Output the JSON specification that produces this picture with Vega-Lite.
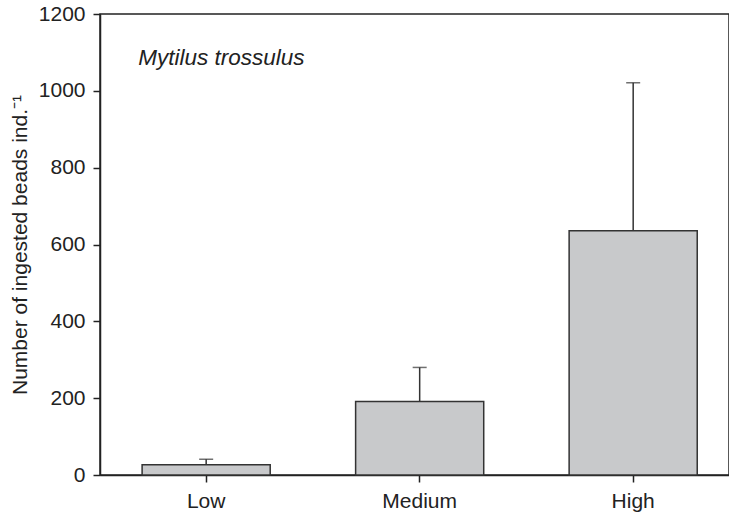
{
  "$schema": "https://vega.github.io/schema/vega-lite/v6.json",
  "width": 629,
  "height": 461,
  "autosize": "none",
  "padding": {"left": 100, "top": 14, "right": 0, "bottom": 37},
  "background": "white",
  "config": {
    "font": "Liberation Sans",
    "view": {"stroke": "#222", "strokeWidth": 1.5},
    "axis": {"domainColor": "#222", "tickColor": "#222", "labelColor": "#222", "titleColor": "#222", "domainWidth": 1.5, "tickWidth": 1.5, "grid": false, "labelFont": "Liberation Sans", "titleFont": "Liberation Sans", "labelFontSize": 21, "titleFontSize": 21, "titleFontWeight": "normal"}
  },
  "datasets": {
    "bars": [
      {"level": "Low", "mean": 27, "upper": 41},
      {"level": "Medium", "mean": 191, "upper": 280},
      {"level": "High", "mean": 636, "upper": 1021}
    ],
    "note": [
      {"level": "Low", "y": 1085, "label": "Mytilus trossulus"}
    ]
  },
  "encoding": {
    "x": {
      "field": "level",
      "type": "nominal",
      "sort": ["Low", "Medium", "High"],
      "scale": {"paddingInner": 0.4, "paddingOuter": 0.173, "align": 0.57},
      "axis": {"title": null, "labelAngle": 0, "tickSize": 7, "labelPadding": 8}
    }
  },
  "layer": [
    {
      "data": {"name": "bars"},
      "mark": {"type": "rule", "stroke": "#333", "strokeWidth": 1.5},
      "encoding": {
        "y": {"field": "mean", "type": "quantitative"},
        "y2": {"field": "upper"}
      }
    },
    {
      "data": {"name": "bars"},
      "mark": {"type": "tick", "color": "#333", "size": 14, "thickness": 1.5, "orient": "horizontal"},
      "encoding": {
        "y": {"field": "upper", "type": "quantitative"}
      }
    },
    {
      "data": {"name": "bars"},
      "mark": {"type": "bar", "fill": "#c8c9cb", "stroke": "#333", "strokeWidth": 1.5},
      "encoding": {
        "y": {
          "field": "mean",
          "type": "quantitative",
          "scale": {"domain": [0, 1200], "nice": false},
          "axis": {"title": "Number of ingested beads ind.⁻¹", "format": "d", "values": [0, 200, 400, 600, 800, 1000, 1200], "tickSize": 7, "labelPadding": 8, "titlePadding": 8}
        }
      }
    },
    {
      "data": {"name": "note"},
      "mark": {"type": "text", "align": "left", "baseline": "middle", "dx": -68, "fontSize": 22.5, "fontStyle": "italic", "font": "Liberation Sans", "color": "#222"},
      "encoding": {
        "y": {"field": "y", "type": "quantitative"},
        "text": {"field": "label"}
      }
    }
  ]
}
